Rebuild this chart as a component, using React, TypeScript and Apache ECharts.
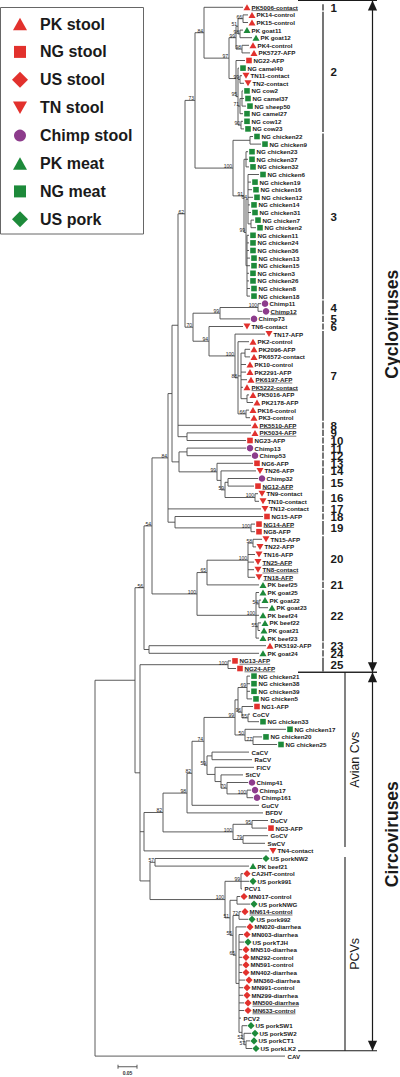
import React, { useEffect, useRef } from "react";
import * as echarts from "echarts";

// ---------------- DATA ----------------
// Tree in Newick form. The number after ":" is the node's distance from the root,
// in units of 0.05/19 substitutions per site (scale bar = 19 units = 0.05).
// Internal node labels are bootstrap values.
const NWK_CLADE_1_2 =
  "(PK5006-contact:148," +
  "((((PK14-control:153,PK15-control:153)66:148,(PK goat11:148,PK goat12:157)98:145)51:143,(PK4-control:154,PK5727-AFP:155)98:147)99:141," +
  "(NG22-AFP:150,(NG camel40:144,(TN11-contact:147,TN2-contact:149)99:145,((NG cow2:148,NG camel37:149,NG sheep50:151):147,NG camel27:148)71:145,(NG cow12:148,NG cow23:149)90:146)95:143):141" +
  ")97:134)84:109";
const NWK_CLADE_3 =
  "((NG chicken22:158,NG chicken9:166):155," +
  "((NG chicken23:153,NG chicken37:153,NG chicken32:154):151," +
  "((NG chicken6:164,NG chicken19:156,NG chicken16:157,NG chicken12:158,NG chicken14:155,NG chicken31:156,(NG chicken7:159,NG chicken2:161):156)64:153," +
  "(NG chicken11:154,NG chicken24:154,NG chicken36:154,NG chicken13:155,NG chicken15:155,NG chicken3:154,NG chicken26:154,NG chicken8:155,NG chicken18:155):152)99:151" +
  ")91:149)100:138";
const NWK_CLADE_4_7 =
  "(((Chimp11:166,Chimp12:167)100:163,Chimp73:155)99:125," +
  "(TN6-contact:148,(TN17-AFP:170,(PK2-control:154,((PK2096-AFP:155,PK6572-contact:155):150,PK10-control:151,PK2291-AFP:151,PK6197-AFP:152,PK5222-contact:148,(PK5016-AFP:154,PK2178-AFP:158):152):146,(PK16-control:154,PK3-control:155)66:151)88:143)100:140)94:114" +
  ")70:98";
const NWK_CLADE_8_10 = "PK5510-AFP:156,(PK5034-AFP:156,NG23-AFP:151):92";
const NWK_CLADE_11_16 =
  "((Chimp13:151,Chimp53:156):92,(NG6-AFP:158,(TN26-AFP:161,((Chimp32:163,NG12-AFP:159):133,(TN9-contact:163,TN10-contact:164)100:160)59:130):126)99:122):84";
const NWK_CLADE_17_19 = "TN12-contact:166,(NG15-AFP:168,(NG14-AFP:160,NG8-AFP:160)100:156):80";
const NWK_CLADE_20_22 =
  "((((TN15-AFP:167,TN22-AFP:161)58:158,TN16-AFP:160,TN25-AFP:159,TN8-contact:159,TN18-AFP:160)100:153,PK beef25:164)65:112," +
  "(PK goat25:164,(PK goat22:166,PK goat23:173)54:164,PK beef24:164,(PK beef22:166,PK goat21:165)55:163,PK beef23:164)100:161)100:102";
const NWK_CLADE_23_24 = "(PK5192-AFP:171,PK goat24:164):54";
const NWK_CLADE_25 = "(NG13-AFP:136,NG24-AFP:141)100:133";
const NWK_AVIAN_CORE =
  "(((NG chicken21:155,NG chicken38:155,NG chicken39:155,NG chicken5:157)69:152,(NG1-AFP:158,(CoCV:155,NG chicken33:164)55:153)96:147):143," +
  "(NG chicken17:191,(NG chicken20:167,NG chicken25:182)77:158)50:150)99:140";
const NWK_AVIAN_CHIMP =
  "((CaCV:154,RaCV:157):117,(FlCV:159,(StCV:148,(Chimp41:153,(Chimp17:156,Chimp161:158)100:152)70:132):126):120)59:112";
const NWK_DUCK_GOOSE = "((DuCV:173,NG3-AFP:172)95:157,(GoCV:173,SwCV:170)79:148)100:138";
const NWK_PCV =
  "((CA2HT-control:148,US pork991:154,PCV1:147)99:146,((MN017-control:145,US porkNWG:155):142," +
  "((MN614-control:146,US pork992:153)72:144,(MN020-diarrhea:151,(MN003-diarrhea:148,US porkTJH:149,MN510-diarrhea:147,MN292-control:147,MN591-control:147,MN402-diarrhea:147,MN360-diarrhea:150,MN991-control:148,MN299-diarrhea:148,MN500-diarrhea:149,MN633-control:149,PCV2:146," +
  "(US porkSW1:152,(US porkSW2:156,(US porkCT1:155,US porkLK2:157)57:151)52:149):147):144)65:141)55:138)51:135)100:130";

const NWK_CYCLO =
  "((((((((" + NWK_CLADE_1_2 + "," + NWK_CLADE_3 + ")73:100," + NWK_CLADE_4_7 + ")62:90," + NWK_CLADE_8_10 + "):83," +
  NWK_CLADE_11_16 + "):77," + NWK_CLADE_17_19 + ")84:73," + NWK_CLADE_20_22 + ")54:57," + NWK_CLADE_23_24 + ")56:49";
const NWK_CIRCO =
  "(" + NWK_CLADE_25 + ",(((((" + NWK_AVIAN_CORE + "," + NWK_AVIAN_CHIMP + ")74:109,GuCV:164)82:97,BFDV:168)98:92," +
  NWK_DUCK_GOOSE + ")82:68,TN4-contact:174):49,((US porkNW2:167,PK beef21:154)57:60," + NWK_PCV + "):55):45";
const TREE_NEWICK = "((" + NWK_CYCLO + "," + NWK_CIRCO + "):40,CAV:190):0;";

// Sample source categories (legend)
const PK_STOOL = ["PK5006-contact", "PK14-control", "PK15-control", "PK4-control", "PK5727-AFP", "PK2-control", "PK2096-AFP", "PK6572-contact", "PK10-control", "PK2291-AFP", "PK6197-AFP", "PK5222-contact", "PK5016-AFP", "PK2178-AFP", "PK16-control", "PK3-control", "PK5510-AFP", "PK5034-AFP", "PK5192-AFP"];
const NG_STOOL = ["NG22-AFP", "NG23-AFP", "NG6-AFP", "NG12-AFP", "NG15-AFP", "NG14-AFP", "NG8-AFP", "NG13-AFP", "NG24-AFP", "NG1-AFP", "NG3-AFP"];
const US_STOOL = ["CA2HT-control", "MN017-control", "MN614-control", "MN020-diarrhea", "MN003-diarrhea", "MN510-diarrhea", "MN292-control", "MN591-control", "MN402-diarrhea", "MN360-diarrhea", "MN991-control", "MN299-diarrhea", "MN500-diarrhea", "MN633-control"];
const TN_STOOL = ["TN11-contact", "TN2-contact", "TN6-contact", "TN17-AFP", "TN26-AFP", "TN9-contact", "TN10-contact", "TN12-contact", "TN15-AFP", "TN22-AFP", "TN16-AFP", "TN25-AFP", "TN8-contact", "TN18-AFP", "TN4-contact"];
const CHIMP_STOOL = ["Chimp11", "Chimp12", "Chimp73", "Chimp13", "Chimp53", "Chimp32", "Chimp41", "Chimp17", "Chimp161"];
const PK_MEAT = ["PK goat11", "PK goat12", "PK beef25", "PK goat25", "PK goat22", "PK goat23", "PK beef24", "PK beef22", "PK goat21", "PK beef23", "PK goat24", "PK beef21"];
const NG_MEAT = ["NG camel40", "NG cow2", "NG camel37", "NG sheep50", "NG camel27", "NG cow12", "NG cow23", "NG chicken22", "NG chicken9", "NG chicken23", "NG chicken37", "NG chicken32", "NG chicken6", "NG chicken19", "NG chicken16", "NG chicken12", "NG chicken14", "NG chicken31", "NG chicken7", "NG chicken2", "NG chicken11", "NG chicken24", "NG chicken36", "NG chicken13", "NG chicken15", "NG chicken3", "NG chicken26", "NG chicken8", "NG chicken18", "NG chicken21", "NG chicken38", "NG chicken39", "NG chicken5", "NG chicken33", "NG chicken17", "NG chicken20", "NG chicken25"];
const US_PORK = ["US porkNW2", "US pork991", "US porkNWG", "US pork992", "US porkTJH", "US porkSW1", "US porkSW2", "US porkCT1", "US porkLK2"];

const UNDERLINED = ["PK5006-contact", "Chimp12", "PK6197-AFP", "PK5222-contact", "PK5510-AFP", "PK5034-AFP", "NG12-AFP", "NG14-AFP", "TN25-AFP", "TN8-contact", "TN18-AFP", "NG13-AFP", "NG24-AFP", "MN614-control", "MN500-diarrhea", "MN633-control"];

// Clade brackets 1..25 (leaf index ranges, top to bottom)
const CLADE_LABELS = ["1", "2", "3", "4", "5", "6", "7", "8", "9", "10", "11", "12", "13", "14", "15", "16", "17", "18", "19", "20", "21", "22", "23", "24", "25"];
const CLADE_FROM = [1, 2, 18, 40, 42, 43, 44, 56, 57, 58, 59, 60, 61, 62, 63, 65, 67, 68, 69, 71, 77, 78, 85, 86, 87];
const CLADE_TO = [1, 17, 39, 41, 42, 43, 55, 56, 57, 58, 59, 60, 61, 62, 64, 66, 67, 68, 70, 76, 77, 84, 85, 86, 88];

// Virus family arrows and host group brackets (in leaf-index units)
const FAMILY_LABELS = ["Cycloviruses", "Circoviruses"];
const FAMILY_FROM = [0.1, 88.5];
const FAMILY_TO = [88.5, 138.3];
const FAMILY_LABEL_AT = [42.7, 109.8];
const HOST_LABELS = ["Avian Cvs", "PCVs"];
const HOST_FROM = [88.5, 112.8];
const HOST_TO = [111.5, 138.3];

const SCALE_BAR_UNITS = 19;
const SCALE_BAR_LABEL = "0.05";

// ---------------- STYLE ----------------
const FONT = "'Liberation Sans', Arial, Helvetica, sans-serif";
const RED = "#e2312d";
const GREEN = "#1d8a3a";
const PURPLE = "#8d3c8c";
const LINE = "#4a4a4a";
const INK = "#1a1a1a";

type Shape = "up" | "square" | "diamond" | "down" | "circle";
const LEGEND: { label: string; members: string[]; shape: Shape; color: string }[] = [
  { label: "PK stool", members: PK_STOOL, shape: "up", color: RED },
  { label: "NG stool", members: NG_STOOL, shape: "square", color: RED },
  { label: "US stool", members: US_STOOL, shape: "diamond", color: RED },
  { label: "TN stool", members: TN_STOOL, shape: "down", color: RED },
  { label: "Chimp stool", members: CHIMP_STOOL, shape: "circle", color: PURPLE },
  { label: "PK meat", members: PK_MEAT, shape: "up", color: GREEN },
  { label: "NG meat", members: NG_MEAT, shape: "square", color: GREEN },
  { label: "US pork", members: US_PORK, shape: "diamond", color: GREEN },
];

// ---------------- TREE PARSING ----------------
type TNode = { name: string; depth: number; children: TNode[]; y: number; boot: string };

function parseNewick(src: string): TNode {
  const s = src.trim();
  let i = 0;
  const read = (): TNode => {
    const node: TNode = { name: "", depth: 0, children: [], y: 0, boot: "" };
    if (s[i] === "(") {
      i++;
      node.children.push(read());
      while (s[i] === ",") {
        i++;
        node.children.push(read());
      }
      i++;
    }
    let label = "";
    while (i < s.length && ":,);".indexOf(s[i]) < 0) label += s[i++];
    if (s[i] === ":") {
      i++;
      let num = "";
      while (i < s.length && ",);".indexOf(s[i]) < 0) num += s[i++];
      node.depth = parseFloat(num);
    }
    if (node.children.length) node.boot = label.trim();
    else node.name = label.trim();
    return node;
  };
  return read();
}

function buildTree() {
  const root = parseNewick(TREE_NEWICK);
  const leaves: TNode[] = [];
  const internals: TNode[] = [];
  const walk = (n: TNode) => {
    if (!n.children.length) {
      leaves.push(n);
      n.y = leaves.length;
      return;
    }
    n.children.forEach(walk);
    n.y = (n.children[0].y + n.children[n.children.length - 1].y) / 2;
    internals.push(n);
  };
  walk(root);
  const edges: number[][] = [];
  internals.forEach((n) => {
    const first = n.children[0];
    const last = n.children[n.children.length - 1];
    edges.push([n.depth, first.y, n.depth, last.y]);
    n.children.forEach((c) => edges.push([n.depth, c.y, c.depth, c.y]));
  });
  return { leaves, internals, edges };
}

let measureCtx: CanvasRenderingContext2D | null = null;
function textWidth(text: string, font: string) {
  if (!measureCtx) measureCtx = document.createElement("canvas").getContext("2d");
  if (!measureCtx) return text.length * 3.5;
  measureCtx.font = font;
  return measureCtx.measureText(text).width;
}

function legendSymbol(shape: Shape, cx: number, cy: number, color: string): any {
  const style = { fill: color };
  switch (shape) {
    case "up":
      return { type: "polygon", shape: { points: [[cx - 7, cy + 6.2], [cx + 7, cy + 6.2], [cx, cy - 6.2]] }, style };
    case "down":
      return { type: "polygon", shape: { points: [[cx - 7, cy - 6.2], [cx + 7, cy - 6.2], [cx, cy + 6.2]] }, style };
    case "square":
      return { type: "rect", shape: { x: cx - 6, y: cy - 6, width: 12, height: 12 }, style };
    case "diamond":
      return { type: "polygon", shape: { points: [[cx, cy - 8], [cx + 8, cy], [cx, cy + 8], [cx - 8, cy]] }, style };
    default:
      return { type: "circle", shape: { cx, cy, r: 6 }, style };
  }
}

const SYMBOLS: Record<Shape, { symbol: string; size: number | number[] }> = {
  up: { symbol: "triangle", size: [7, 6] },
  down: { symbol: "path://M0,0L20,0L10,17Z", size: [7, 6] },
  square: { symbol: "rect", size: 5.6 },
  diamond: { symbol: "diamond", size: 7.2 },
  circle: { symbol: "circle", size: 6.6 },
};

function buildOption() {
  const { leaves, internals, edges } = buildTree();
  const marked = new Set<string>();
  LEGEND.forEach((g) => g.members.forEach((m) => marked.add(m)));
  const leafFont = `bold 6.2px ${FONT}`;

  const markerSeries = LEGEND.map((g) => ({
    type: "scatter",
    name: g.label,
    silent: true,
    symbol: SYMBOLS[g.shape].symbol,
    symbolSize: SYMBOLS[g.shape].size,
    symbolOffset: [4, 0],
    itemStyle: { color: g.color, opacity: 1 },
    z: 4,
    data: leaves.filter((l) => g.members.indexOf(l.name) >= 0).map((l) => [l.depth, l.y]),
  }));

  const legendGraphic: any[] = [
    { type: "rect", shape: { x: 0.5, y: 7.5, width: 143, height: 226.5 }, style: { fill: "#fff", stroke: "#666", lineWidth: 1 } },
  ];
  LEGEND.forEach((g, k) => {
    const cy = 24 + k * 27.9;
    legendGraphic.push(legendSymbol(g.shape, 20, cy, g.color));
    legendGraphic.push({
      type: "text",
      x: 40,
      y: cy,
      style: { text: g.label, fontSize: 16, fontWeight: "bold", fontFamily: FONT, fill: INK, align: "left", verticalAlign: "middle" },
    });
  });

  const bootNodes = internals.filter((n) => n.boot);

  return {
    animation: false,
    backgroundColor: "#fff",
    grid: { left: 95, top: 7.3, width: 305, height: 1048.8 },
    xAxis: { type: "value", min: 0, max: 305, show: false },
    yAxis: { type: "value", min: 1, max: 139, inverse: true, show: false },
    graphic: legendGraphic,
    series: [
      {
        type: "custom",
        name: "branches",
        coordinateSystem: "cartesian2d",
        silent: true,
        clip: false,
        z: 2,
        data: edges,
        renderItem: (params: any, api: any) => {
          const e = edges[params.dataIndex];
          const a = api.coord([e[0], e[1]]);
          const b = api.coord([e[2], e[3]]);
          return {
            type: "line",
            shape: { x1: a[0], y1: a[1], x2: b[0], y2: b[1] },
            style: { stroke: LINE, lineWidth: 0.9 },
          };
        },
      },
      ...markerSeries,
      {
        type: "custom",
        name: "leafLabels",
        coordinateSystem: "cartesian2d",
        silent: true,
        clip: false,
        z: 5,
        data: leaves.map((l) => [l.depth, l.y]),
        renderItem: (params: any, api: any) => {
          const leaf = leaves[params.dataIndex];
          const p = api.coord([leaf.depth, leaf.y]);
          const x = p[0] + (marked.has(leaf.name) ? 8.5 : 2.5);
          const children: any[] = [
            {
              type: "text",
              x,
              y: p[1],
              style: { text: leaf.name, fontSize: 6.2, fontWeight: "bold", fontFamily: FONT, fill: INK, align: "left", verticalAlign: "middle" },
            },
          ];
          if (UNDERLINED.indexOf(leaf.name) >= 0) {
            const w = textWidth(leaf.name, leafFont);
            children.push({ type: "line", shape: { x1: x, y1: p[1] + 3.3, x2: x + w, y2: p[1] + 3.3 }, style: { stroke: "#222", lineWidth: 0.6 } });
          }
          return { type: "group", children };
        },
      },
      {
        type: "custom",
        name: "bootstrap",
        coordinateSystem: "cartesian2d",
        silent: true,
        clip: false,
        z: 5,
        data: bootNodes.map((n) => [n.depth, n.y]),
        renderItem: (params: any, api: any) => {
          const n = bootNodes[params.dataIndex];
          const p = api.coord([n.depth, n.y]);
          return {
            type: "text",
            x: p[0] - 1,
            y: p[1] - 2.2,
            style: { text: n.boot, fontSize: 5, fontFamily: FONT, fill: "#222", align: "right", verticalAlign: "middle" },
          };
        },
      },
      {
        type: "custom",
        name: "annotations",
        coordinateSystem: "cartesian2d",
        silent: true,
        clip: false,
        z: 6,
        data: [[0, 1]],
        renderItem: (_params: any, api: any) => {
          const yPx = (idx: number) => api.coord([0, idx])[1];
          const children: any[] = [];
          const stroke = "#1a1a1a";
          // clade brackets
          CLADE_LABELS.forEach((lab, k) => {
            const y1 = yPx(CLADE_FROM[k]) - 3.1;
            const y2 = yPx(CLADE_TO[k]) + 3.1;
            children.push({ type: "line", shape: { x1: 323, y1, x2: 323, y2 }, style: { stroke, lineWidth: 1.2 } });
            children.push({
              type: "text",
              x: 330.5,
              y: (y1 + y2) / 2 + 0.5,
              style: { text: lab, fontSize: 11.5, fontWeight: "bold", fontFamily: FONT, fill: INK, align: "left", verticalAlign: "middle" },
            });
          });
          // host group brackets
          HOST_LABELS.forEach((lab, k) => {
            const y1 = yPx(HOST_FROM[k]);
            const y2 = yPx(HOST_TO[k]);
            children.push({ type: "line", shape: { x1: 345, y1, x2: 345, y2 }, style: { stroke, lineWidth: 1.1 } });
            children.push({
              type: "text",
              x: 355,
              y: (y1 + y2) / 2,
              rotation: Math.PI / 2,
              style: { text: lab, fontSize: 12.5, fontFamily: FONT, fill: INK, align: "center", verticalAlign: "middle" },
            });
          });
          // family arrows
          FAMILY_LABELS.forEach((lab, k) => {
            const y1 = yPx(FAMILY_FROM[k]);
            const y2 = yPx(FAMILY_TO[k]);
            const ax = 372.5;
            children.push({ type: "line", shape: { x1: ax, y1, x2: ax, y2 }, style: { stroke, lineWidth: 1.2 } });
            children.push({ type: "polygon", shape: { points: [[ax, y1], [ax - 4.6, y1 + 10], [ax + 4.6, y1 + 10]] }, style: { fill: stroke } });
            children.push({ type: "polygon", shape: { points: [[ax, y2], [ax - 4.6, y2 - 10], [ax + 4.6, y2 - 10]] }, style: { fill: stroke } });
            children.push({ type: "line", shape: { x1: 298, y1, x2: 377, y2: y1 }, style: { stroke, lineWidth: 1.1 } });
            children.push({ type: "line", shape: { x1: 298, y1: y2, x2: 377, y2 }, style: { stroke, lineWidth: 1.1 } });
            children.push({
              type: "text",
              x: 391.5,
              y: yPx(FAMILY_LABEL_AT[k]),
              rotation: Math.PI / 2,
              style: { text: lab, fontSize: 17.5, fontWeight: "bold", fontFamily: FONT, fill: INK, align: "center", verticalAlign: "middle" },
            });
          });
          // scale bar
          const s1 = api.coord([23, 140.4]);
          const s2 = api.coord([23 + SCALE_BAR_UNITS, 140.4]);
          children.push({ type: "line", shape: { x1: s1[0], y1: s1[1], x2: s2[0], y2: s2[1] }, style: { stroke: LINE, lineWidth: 0.9 } });
          children.push({ type: "line", shape: { x1: s1[0], y1: s1[1] - 2, x2: s1[0], y2: s1[1] + 2 }, style: { stroke: LINE, lineWidth: 0.9 } });
          children.push({ type: "line", shape: { x1: s2[0], y1: s2[1] - 2, x2: s2[0], y2: s2[1] + 2 }, style: { stroke: LINE, lineWidth: 0.9 } });
          children.push({
            type: "text",
            x: (s1[0] + s2[0]) / 2,
            y: s1[1] + 6,
            style: { text: SCALE_BAR_LABEL, fontSize: 5, fontWeight: "bold", fontFamily: FONT, fill: "#333", align: "center", verticalAlign: "middle" },
          });
          return { type: "group", children };
        },
      },
    ],
  };
}

export default function App() {
  const ref = useRef<HTMLDivElement>(null);
  useEffect(() => {
    if (!ref.current) return;
    const chart = echarts.init(ref.current, undefined, { renderer: "svg" });
    chart.setOption(buildOption() as any);
    return () => chart.dispose();
  }, []);
  return (
    <div
      ref={ref}
      style={{ position: "absolute", left: 0, top: 0, width: 400, height: 1077, background: "#fff" }}
    />
  );
}
